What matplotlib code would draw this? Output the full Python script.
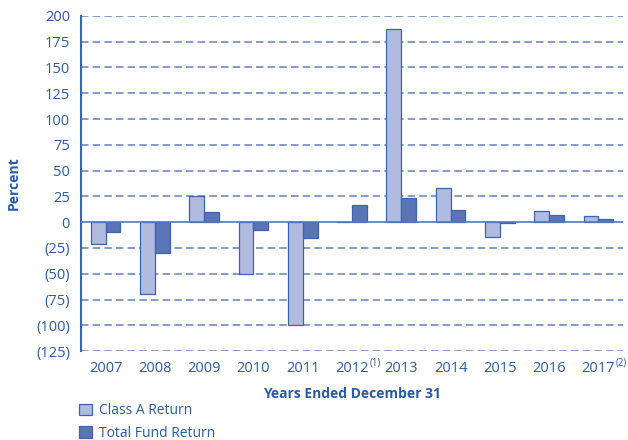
import matplotlib
matplotlib.use("Agg")
import matplotlib.pyplot as plt
import numpy as np

years = ["2007", "2008", "2009", "2010", "2011", "2012", "2013",
         "2014", "2015", "2016", "2017"]
footnotes = {5: "(1)", 10: "(2)"}
class_a = [-21, -70, 25, -50, -100, 0, 187, 33, -14, 11, 6]
total_fund = [-10, -30, 10, -8, -15, 16.5, 23, 12, -1, 7, 3.5]
yticks = [-125, -100, -75, -50, -25, 0, 25, 50, 75, 100, 125, 150, 175, 200]

TXT = "#2a5ba8"
LIGHT = "#b1badf"
DARK = "#5b74b8"
EDGE = "#3d64b0"
GRID = "#5577bb"

plt.rcParams["font.family"] = ["Open Sans", "DejaVu Sans"]

fig = plt.figure(figsize=(6.28, 4.40), dpi=100)
ax = fig.add_axes([0.129, 0.202, 0.863, 0.762])

x = np.arange(len(years))
w = 0.3
ax.bar(x - w / 2, class_a, w, color=LIGHT, edgecolor=EDGE, linewidth=0.9,
       label="Class A Return", zorder=3)
ax.bar(x + w / 2, total_fund, w, color=DARK, edgecolor=EDGE, linewidth=0.9,
       label="Total Fund Return", zorder=3)

ax.set_xlim(-0.5, len(years) - 0.5)
ax.set_ylim(-125, 200)
ax.set_yticks(yticks)
ax.set_yticklabels([f"({-v})" if v < 0 else str(v) for v in yticks])
ax.set_xticks(x)
ax.set_xticklabels(years)

for v in yticks:
    if v != 0:
        ax.axhline(v, color=GRID, linewidth=1.2, linestyle=(0, (4.5, 2.5)),
                   alpha=0.85, zorder=1)
ax.axhline(0, color=GRID, linewidth=1.2, zorder=4)

for s in ["top", "right", "bottom"]:
    ax.spines[s].set_visible(False)
ax.spines["left"].set_color(EDGE)
ax.spines["left"].set_linewidth(1.5)

ax.tick_params(axis="both", length=0, labelsize=10.5, colors=TXT)
ax.tick_params(axis="y", pad=8)
ax.tick_params(axis="x", pad=7)

ticklabels = ax.get_xticklabels()
for i, note in footnotes.items():
    ax.annotate(note, xy=(1, 1), xycoords=ticklabels[i], xytext=(0.5, 2.5),
                textcoords="offset points", ha="left", va="top",
                fontsize=7, color=TXT)

ax.set_ylabel("Percent", fontsize=10, fontweight="bold", color=TXT, labelpad=11)
ax.set_xlabel("Years Ended December 31", fontsize=10, fontweight="bold",
              color=TXT, labelpad=8)

leg = fig.legend(loc="upper left", bbox_to_anchor=(0.117, 0.096), frameon=False,
                 handlelength=0.9, handleheight=0.9, handletextpad=0.55,
                 labelspacing=0.55, fontsize=10, borderaxespad=0)
for t in leg.get_texts():
    t.set_color(TXT)

fig.savefig("out.png", dpi=100)
